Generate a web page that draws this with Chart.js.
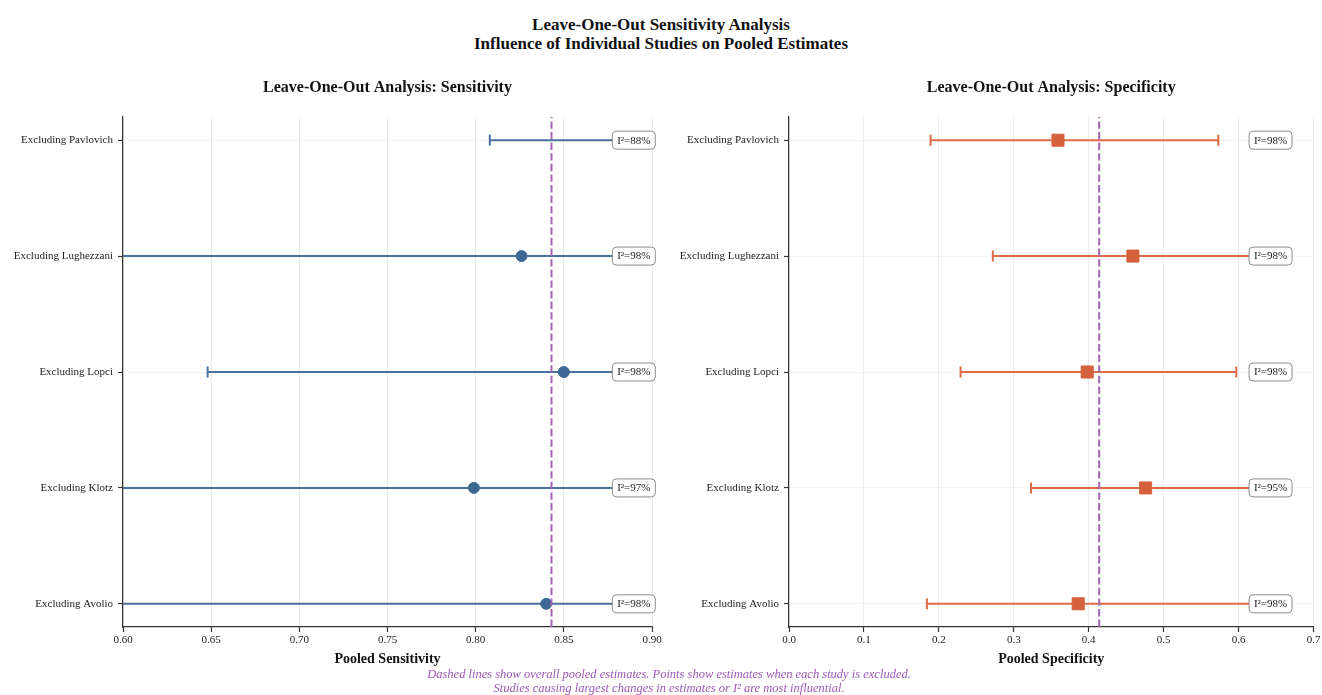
<!DOCTYPE html>
<html>
<head>
<meta charset="utf-8">
<title>Leave-One-Out Sensitivity Analysis</title>
<script src="https://cdn.jsdelivr.net/npm/chart.js@4.4.1/dist/chart.umd.min.js"></script>
<style>
    html, body { margin: 0; padding: 0; background: #fff; overflow: hidden; }
    body { width: 1322px; height: 695px; position: relative; font-family: 'Liberation Serif', 'DejaVu Serif', serif; }
    #mainTitle { position: absolute; left: 0; top: 15px; width: 1322px; text-align: center; font-weight: bold; font-size: 17px; line-height: 19px; color: #111; }
    #footer { position: absolute; left: 8px; top: 668px; width: 1322px; text-align: center; font-style: italic; font-size: 12.5px; line-height: 13.5px; color: #9b59b6; }
    .panel { position: absolute; }
</style>
</head>
<body>
<div id="mainTitle">Leave-One-Out Sensitivity Analysis<br>Influence of Individual Studies on Pooled Estimates</div>
<div class="panel" style="left:0; top:66px;"><canvas id="sensChart" width="670" height="614"></canvas></div>
<div class="panel" style="left:670px; top:66px;"><canvas id="specChart" width="653" height="614"></canvas></div>
<div id="footer">Dashed lines show overall pooled estimates. Points show estimates when each study is excluded.<br>Studies causing largest changes in estimates or I² are most influential.</div>

<script>
// y = 0 is the bottom row
const studies = ['Avolio', 'Klotz', 'Lopci', 'Lughezzani', 'Pavlovich'];

const sensEst = [0.840, 0.799, 0.850, 0.826, 0.891];
const sensLow = [0.50, 0.52, 0.648, 0.55, 0.808];
const sensHigh = [0.95, 0.94, 0.96, 0.95, 0.93];
const sensI2 = [98, 97, 98, 98, 88];
const pooledSens = 0.843;
const sensTicks = [0.60, 0.65, 0.70, 0.75, 0.80, 0.85, 0.90];

const specEst = [0.386, 0.476, 0.398, 0.459, 0.359];
const specLow = [0.184, 0.323, 0.229, 0.272, 0.189];
const specHigh = [0.635, 0.630, 0.597, 0.640, 0.573];
const specI2 = [98, 95, 98, 98, 98];
const pooledSpec = 0.414;
const specTicks = [0.0, 0.1, 0.2, 0.3, 0.4, 0.5, 0.6, 0.7];

const serif = "'Liberation Serif', 'DejaVu Serif', serif";

// subplot title, centred over the plot area (not the whole canvas)
const panelTitle = {
    id: 'panelTitle',
    afterDraw(chart, args, opts) {
        const ctx = chart.ctx;
        const area = chart.chartArea;
        ctx.save();
        ctx.font = 'bold 16px ' + serif;
        ctx.fillStyle = '#111';
        ctx.textAlign = 'center';
        ctx.textBaseline = 'middle';
        ctx.fillText(opts.text, (area.left + area.right) / 2, opts.y);
        ctx.restore();
    }
};

// white rounded boxes with the I² value, drawn over the bars
const i2Labels = {
    id: 'i2Labels',
    afterDatasetsDraw(chart, args, opts) {
        const ctx = chart.ctx;
        const xs = chart.scales.x, ys = chart.scales.y;
        ctx.save();
        ctx.font = '11px ' + serif;
        ctx.textAlign = 'center';
        ctx.textBaseline = 'middle';
        opts.values.forEach((v, i) => {
            let left = xs.getPixelForValue(opts.boxX);
            let cy = ys.getPixelForValue(i);
            let w = 43, h = 18;
            ctx.beginPath();
            ctx.roundRect(left, cy - h / 2, w, h, 4);
            ctx.fillStyle = '#ffffff';
            ctx.fill();
            ctx.lineWidth = 1;
            ctx.strokeStyle = '#8c8c8c';
            ctx.stroke();
            ctx.fillStyle = '#222';
            ctx.fillText('I²=' + v + '%', left + w / 2, cy + 0.5);
        });
        ctx.restore();
    }
};

function buildChart(canvasId, cfg) {
    let datasets = [];

    // pooled estimate
    datasets.push({
        type: 'line',
        data: [{ x: cfg.pooled, y: -0.2 }, { x: cfg.pooled, y: 4.2 }],
        borderColor: '#a463b3',
        borderWidth: 2,
        borderDash: [7.4, 3.2],
        pointRadius: 0,
        order: 0
    });

    // confidence intervals with caps
    studies.forEach((s, i) => {
        datasets.push({
            type: 'line',
            data: [{ x: cfg.low[i], y: i }, { x: cfg.high[i], y: i }],
            borderColor: cfg.lineColor,
            borderWidth: 2,
            pointStyle: 'line',
            pointRotation: 90,
            pointRadius: 5.5,
            pointBorderWidth: 2,
            pointBorderColor: cfg.lineColor,
            order: 2
        });
    });

    // leave-one-out estimates
    datasets.push({
        type: 'scatter',
        data: cfg.est.map((v, i) => ({ x: v, y: i })),
        pointStyle: cfg.marker,
        pointRadius: cfg.markerSize,
        backgroundColor: cfg.markerColor,
        borderColor: cfg.markerColor,
        borderWidth: 1,
        order: 1
    });

    return new Chart(document.getElementById(canvasId), {
        type: 'scatter',
        data: { datasets: datasets },
        options: {
            responsive: false,
            animation: false,
            devicePixelRatio: 1,
            layout: { padding: { left: 0, right: cfg.padRight, top: 51, bottom: 0 } },
            plugins: {
                legend: { display: false },
                tooltip: { enabled: false },
                title: { display: false },
                panelTitle: { text: cfg.title, y: 22 },
                i2Labels: { values: cfg.i2, boxX: cfg.boxX }
            },
            scales: {
                x: {
                    type: 'linear',
                    min: cfg.ticks[0],
                    max: cfg.ticks[cfg.ticks.length - 1],
                    afterBuildTicks: scale => { scale.ticks = cfg.ticks.map(v => ({ value: v })); },
                    afterFit: scale => { scale.height = 53; },
                    ticks: {
                        autoSkip: false,
                        maxRotation: 0,
                        padding: 2,
                        color: '#222',
                        font: { family: serif, size: 11 },
                        callback: v => v.toFixed(cfg.decimals)
                    },
                    grid: { color: '#e6e6e6', lineWidth: 0.8, tickLength: 5, tickColor: '#333', tickWidth: 1.2 },
                    border: { color: '#333', width: 1.2 },
                    title: {
                        display: true,
                        text: cfg.xTitle,
                        color: '#111',
                        font: { family: serif, size: 14, weight: 'bold' },
                        padding: { top: 0, bottom: 12.6 }
                    }
                },
                y: {
                    type: 'linear',
                    min: -0.2,
                    max: 4.2,
                    afterBuildTicks: scale => { scale.ticks = studies.map((s, i) => ({ value: i })); },
                    afterFit: scale => { scale.width = cfg.yWidth; },
                    ticks: {
                        autoSkip: false,
                        padding: 5,
                        color: '#222',
                        font: { family: serif, size: 11 },
                        callback: v => 'Excluding ' + studies[v]
                    },
                    grid: { color: '#f1f1f1', lineWidth: 0.8, tickLength: 5, tickColor: '#333', tickWidth: 1.2 },
                    border: { color: '#333', width: 1.2 }
                }
            }
        },
        plugins: [panelTitle, i2Labels]
    });
}

buildChart('sensChart', {
    title: 'Leave-One-Out Analysis: Sensitivity',
    xTitle: 'Pooled Sensitivity',
    est: sensEst, low: sensLow, high: sensHigh, i2: sensI2,
    pooled: pooledSens,
    ticks: sensTicks, decimals: 2,
    lineColor: '#4a72a0',
    markerColor: '#3d6894',
    marker: 'circle',
    markerSize: 5.5,
    boxX: 0.8775,
    yWidth: 123,
    padRight: 18
});

buildChart('specChart', {
    title: 'Leave-One-Out Analysis: Specificity',
    xTitle: 'Pooled Specificity',
    est: specEst, low: specLow, high: specHigh, i2: specI2,
    pooled: pooledSpec,
    ticks: specTicks, decimals: 1,
    lineColor: '#de6b48',
    markerColor: '#d4613c',
    marker: 'rect',
    markerSize: 8.5,
    boxX: 0.614,
    yWidth: 119,
    padRight: 7
});
</script>
</body>
</html>
